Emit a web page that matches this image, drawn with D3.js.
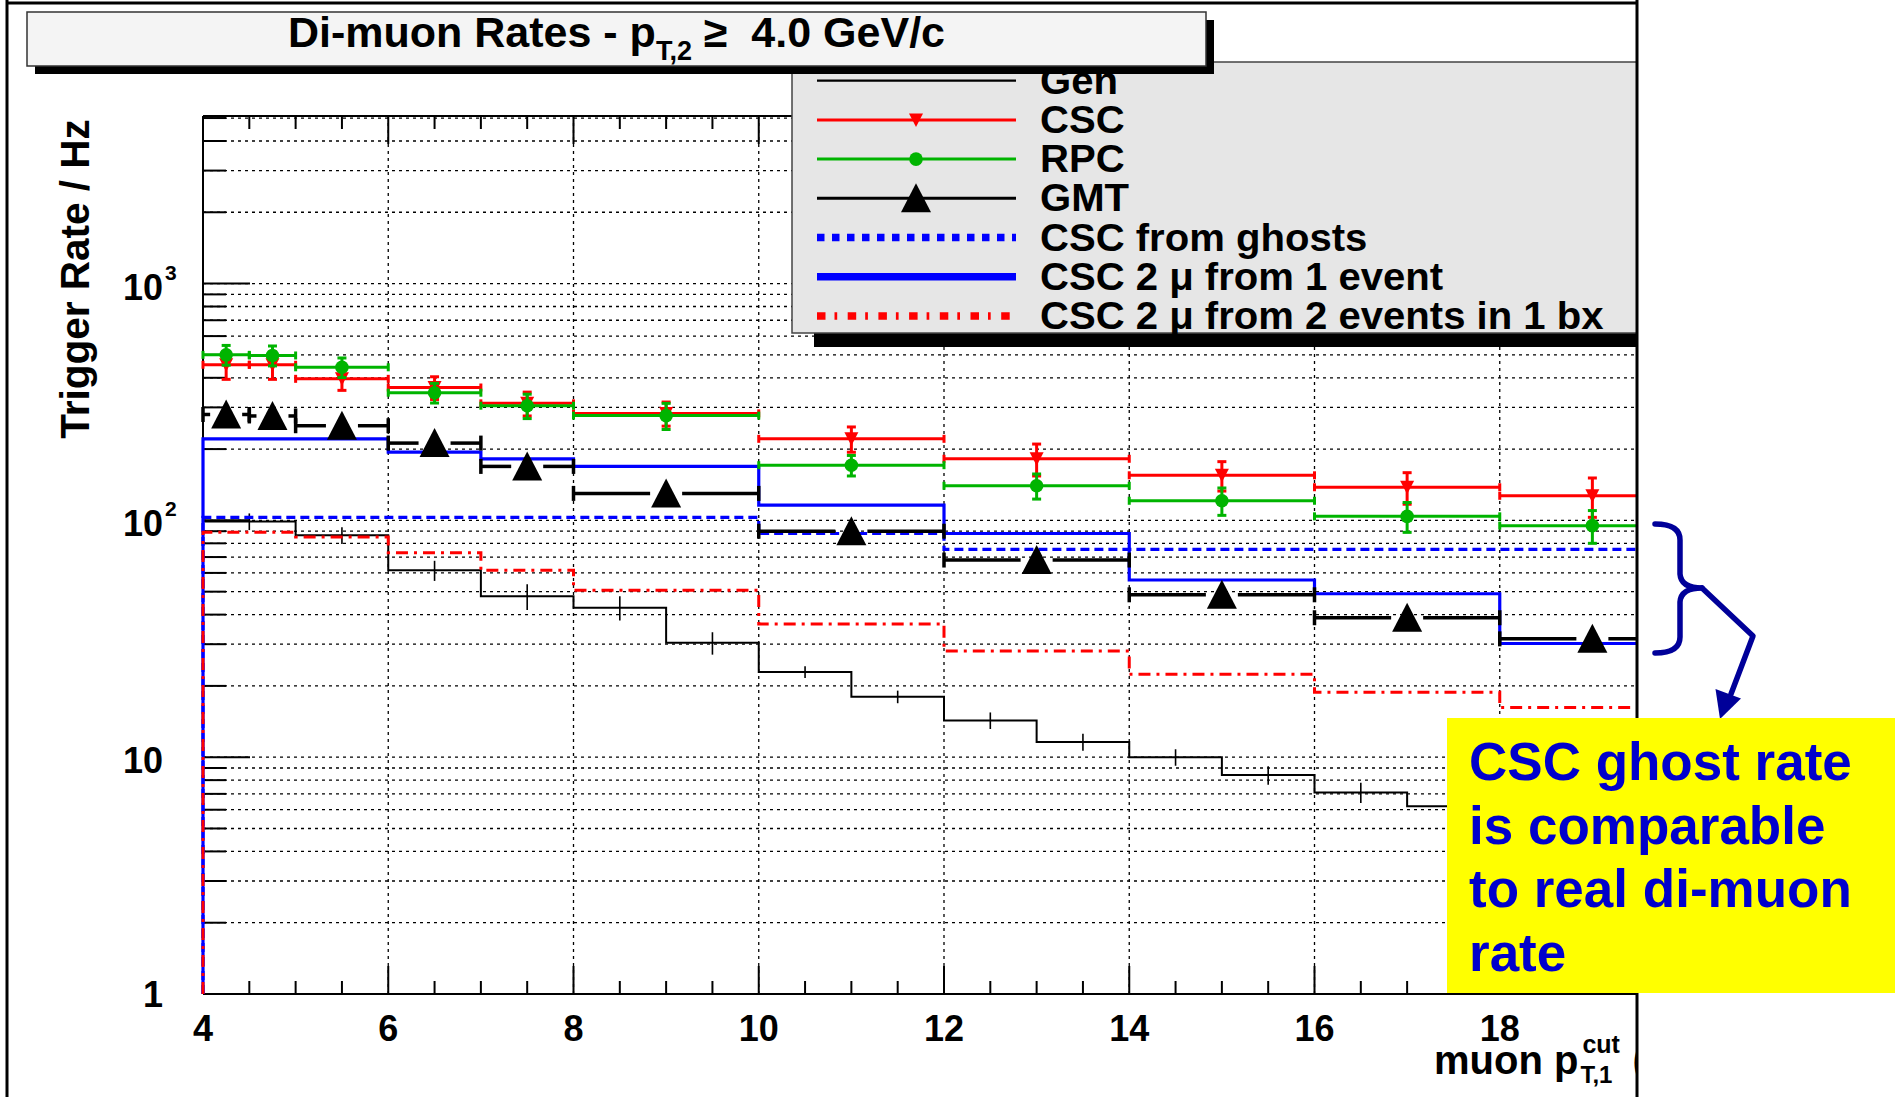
<!DOCTYPE html>
<html>
<head>
<meta charset="utf-8">
<script src="https://cdn.jsdelivr.net/npm/d3@7"></script>
<style>
  body { margin: 0; background: #fff; }
  svg { display: block; }
  text { font-family: "Liberation Sans", Arial, Helvetica, sans-serif; font-weight: bold; white-space: pre; }
</style>
</head>
<body>
<svg id="chart" width="1895" height="1097"></svg>
<script>
// ---- data ----------------------------------------------------------------
// variable-width bins for the trigger histograms (muon pT cut, GeV/c)
const binEdges = [4, 4.5, 5, 6, 7, 8, 10, 12, 14, 16, 18, 20];
// generator-level histogram uses 1 GeV/c bins
const genEdges = [4, 5, 6, 7, 8, 9, 10, 11, 12, 13, 14, 15, 16, 17, 18, 19, 20];

const genRate = [99, 86.5, 61.5, 47.8, 42.8, 30.4, 22.9, 18.0, 14.3, 11.6, 10.0, 8.4, 7.1, 6.2, 5.3, 4.6];
const genErr  = [8, 7, 6, 6, 5, 3.3, 1.3, 1.1, 1.15, 0.95, 0.8, 0.75, 0.7, 0.6, 0.55, 0.5];

const cscRate = [454, 454, 396, 364, 312, 283, 221, 182, 155, 138, 127];
const cscErr  = [60, 60, 42, 40, 36, 33, 27, 28, 22, 21, 24];

const rpcRate = [500, 497, 443, 346, 305, 277, 171, 140, 121, 104, 95];
const rpcErr  = [48, 48, 42, 33, 36, 35, 17, 17, 16, 15, 15];

const gmtRate = [280, 276, 251, 212, 169, 130, 90, 68, 48.5, 38.8, 31.6];

const ghostRate    = [103, 103, 103, 103, 103, 103, 88, 75.5, 75.5, 75.5, 75.5];
const oneEventRate = [221, 221, 221, 194, 182, 169, 116, 88, 56, 49, 30.2];
const twoEventRate = [89, 89, 85, 73, 61.5, 50.7, 36.5, 28.1, 22.4, 18.8, 16.2];

const xTickLabels = [4, 6, 8, 10, 12, 14, 16, 18];
const yTickValues = [1, 10, 100, 1000];
const yTickExponents = ["", "", "2", "3"];

const legendLabels = ["Gen", "CSC", "RPC", "GMT", "CSC from ghosts",
                      "CSC 2 \u03bc from 1 event", "CSC 2 \u03bc from 2 events in 1 bx"];
const noteLines = ["CSC ghost rate", "is comparable", "to real di-muon", "rate"];

// ---- layout --------------------------------------------------------------
const svg = d3.select("#chart");
const plot = { left: 203, right: 1685, top: 116, bottom: 994 };
const visibleRight = 1637;

const x = d3.scaleLinear().domain([4, 20]).range([plot.left, plot.right]);
const y = d3.scaleLog().domain([1, 5100]).range([plot.bottom, plot.top]);

const RED = "#ff0000", GREEN = "#00b400", BLUE = "#0000ff", NAVY = "#000099";

svg.append("defs").append("clipPath").attr("id", "picClip")
  .append("rect").attr("x", 0).attr("y", 0).attr("width", visibleRight).attr("height", 1097);

const g = svg.append("g").attr("clip-path", "url(#picClip)");

// ---- grid ----------------------------------------------------------------
const yMinor = [];
for (let d = 1; d <= 1000; d *= 10) for (let k = 1; k <= 9; k++) {
  const v = d * k;
  if (v > 1 && v <= 5100) yMinor.push(v);
}
const yGrid = Array.from(new Set(yMinor)).filter(v => v <= 5100);
const xGrid = d3.range(6, 20.01, 2);

g.append("g").selectAll("line").data(yGrid).join("line")
  .attr("x1", plot.left).attr("x2", plot.right)
  .attr("y1", d => y(d)).attr("y2", d => y(d))
  .attr("stroke", "#000").attr("stroke-width", 1.3).attr("stroke-dasharray", "3,4");

g.append("g").selectAll("line").data(xGrid).join("line")
  .attr("x1", d => x(d)).attr("x2", d => x(d))
  .attr("y1", plot.top).attr("y2", plot.bottom)
  .attr("stroke", "#000").attr("stroke-width", 1.3).attr("stroke-dasharray", "3,4");

// ---- frame and ticks -----------------------------------------------------
const frame = g.append("g").attr("stroke", "#000").attr("stroke-width", 2);
frame.append("line").attr("x1", plot.left).attr("x2", plot.right).attr("y1", plot.bottom).attr("y2", plot.bottom);
frame.append("line").attr("x1", plot.left).attr("x2", plot.right).attr("y1", plot.top).attr("y2", plot.top);
frame.append("line").attr("x1", plot.left).attr("x2", plot.left).attr("y1", plot.top).attr("y2", plot.bottom);

const xMinorTicks = d3.range(4, 20.01, 0.5);
frame.selectAll(".xt").data(xMinorTicks).join("line")
  .attr("x1", d => x(d)).attr("x2", d => x(d))
  .attr("y1", plot.bottom)
  .attr("y2", d => plot.bottom - (d % 2 === 0 ? 28 : 13));
frame.selectAll(".xtt").data(xMinorTicks).join("line")
  .attr("x1", d => x(d)).attr("x2", d => x(d))
  .attr("y1", plot.top)
  .attr("y2", d => plot.top + (d % 2 === 0 ? 28 : 13));
frame.selectAll(".yt").data(yGrid).join("line")
  .attr("x1", plot.left)
  .attr("x2", d => plot.left + (yTickValues.includes(d) ? 47 : 23))
  .attr("y1", d => y(d)).attr("y2", d => y(d));

// ---- histograms (step lines) ---------------------------------------------
function stepPath(edges, vals) {
  const pts = [[edges[0], 1]];
  vals.forEach((v, i) => { pts.push([edges[i], v]); pts.push([edges[i + 1], v]); });
  return d3.line().x(d => x(d[0])).y(d => y(d[1]))(pts);
}

const hist = g.append("g").attr("fill", "none");
hist.append("path").attr("d", stepPath(genEdges, genRate))
  .attr("stroke", "#000").attr("stroke-width", 2);
hist.selectAll(".gerr").data(genRate).join("line")
  .attr("x1", (d, i) => x((genEdges[i] + genEdges[i + 1]) / 2))
  .attr("x2", (d, i) => x((genEdges[i] + genEdges[i + 1]) / 2))
  .attr("y1", (d, i) => y(d + genErr[i])).attr("y2", (d, i) => y(d - genErr[i]))
  .attr("stroke", "#000").attr("stroke-width", 1.6);

hist.append("path").attr("d", stepPath(binEdges, oneEventRate))
  .attr("stroke", BLUE).attr("stroke-width", 3.2);
hist.append("path").attr("d", stepPath(binEdges, ghostRate))
  .attr("stroke", BLUE).attr("stroke-width", 3.2).attr("stroke-dasharray", "9,5");
hist.append("path").attr("d", stepPath(binEdges, twoEventRate))
  .attr("stroke", RED).attr("stroke-width", 3).attr("stroke-dasharray", "12,6,3,6");

// ---- points with error bars ----------------------------------------------
function binsOf(vals, errs) {
  return vals.map((v, i) => ({ x0: binEdges[i], x1: binEdges[i + 1], c: (binEdges[i] + binEdges[i + 1]) / 2, v, e: errs ? errs[i] : 0 }));
}

function markerPath(kind, cx, cy) {
  if (kind === "down") return `M${cx - 7},${cy - 6.5}L${cx + 7},${cy - 6.5}L${cx},${cy + 7}Z`;
  return `M${cx},${cy - 15}L${cx + 15},${cy + 14}L${cx - 15},${cy + 14}Z`;
}

function drawErrorSeries(vals, errs, color, kind) {
  const s = g.append("g").attr("stroke", color).attr("stroke-width", 3);
  const bins = binsOf(vals, errs);
  s.selectAll(".h").data(bins).join("line")
    .attr("x1", d => x(d.x0)).attr("x2", d => x(d.x1))
    .attr("y1", d => y(d.v)).attr("y2", d => y(d.v));
  s.selectAll(".ec").data(bins.flatMap(d => [{ xv: d.x0, v: d.v }, { xv: d.x1, v: d.v }])).join("line")
    .attr("x1", d => x(d.xv)).attr("x2", d => x(d.xv))
    .attr("y1", d => y(d.v) - 4).attr("y2", d => y(d.v) + 4);
  s.selectAll(".v").data(bins).join("line")
    .attr("x1", d => x(d.c)).attr("x2", d => x(d.c))
    .attr("y1", d => y(d.v + d.e)).attr("y2", d => y(d.v - d.e));
  s.selectAll(".vc").data(bins.flatMap(d => [d.v + d.e, d.v - d.e].map(v => ({ c: d.c, v })))).join("line")
    .attr("x1", d => x(d.c) - 4.5).attr("x2", d => x(d.c) + 4.5)
    .attr("y1", d => y(d.v)).attr("y2", d => y(d.v));
  if (kind === "circle") {
    s.selectAll(".m").data(bins).join("circle")
      .attr("cx", d => x(d.c)).attr("cy", d => y(d.v)).attr("r", 6.8)
      .attr("fill", color).attr("stroke", "none");
  } else {
    s.selectAll(".m").data(bins).join("path")
      .attr("d", d => markerPath(kind, x(d.c), y(d.v)))
      .attr("fill", color).attr("stroke", "none");
  }
}

// GMT: horizontal bin bars broken around large triangle markers
const gmt = g.append("g").attr("stroke", "#000").attr("stroke-width", 3.5);
const gmtBins = binsOf(gmtRate, null);
gmt.selectAll(".l").data(gmtBins).join("line")
  .attr("x1", d => x(d.x0)).attr("x2", d => Math.max(x(d.x0), x(d.c) - 16))
  .attr("y1", d => y(d.v)).attr("y2", d => y(d.v));
gmt.selectAll(".r").data(gmtBins).join("line")
  .attr("x1", d => Math.min(x(d.x1), x(d.c) + 16)).attr("x2", d => x(d.x1))
  .attr("y1", d => y(d.v)).attr("y2", d => y(d.v));
gmt.selectAll(".ec").data(gmtBins.flatMap(d => [{ xv: d.x0, v: d.v }, { xv: d.x1, v: d.v }])).join("line")
  .attr("x1", d => x(d.xv)).attr("x2", d => x(d.xv))
  .attr("y1", d => y(d.v) - 7.5).attr("y2", d => y(d.v) + 7.5);
gmt.selectAll(".m").data(gmtBins).join("path")
  .attr("d", d => markerPath("up", x(d.c), y(d.v)))
  .attr("fill", "#000").attr("stroke", "none");

drawErrorSeries(cscRate, cscErr, RED, "down");
drawErrorSeries(rpcRate, rpcErr, GREEN, "circle");

// ---- tick labels and axis titles -----------------------------------------
g.append("g").selectAll("text").data(xTickLabels).join("text")
  .attr("x", d => x(d)).attr("y", 1041).attr("text-anchor", "middle")
  .attr("font-size", 36).text(d => d);

const yl = g.append("g");
yl.selectAll(".b").data(yTickValues).join("text")
  .attr("x", 163).attr("y", d => y(d) + (d === 1 ? 13 : 16)).attr("text-anchor", "end")
  .attr("font-size", 36).text(d => d === 1 ? "1" : "10");
yl.selectAll(".e").data(yTickValues.filter((d, i) => yTickExponents[i])).join("text")
  .attr("x", 165).attr("y", d => y(d) - 4).attr("font-size", 21)
  .text(d => yTickExponents[yTickValues.indexOf(d)]);

g.append("text").attr("transform", "translate(89,279) rotate(-90)")
  .attr("text-anchor", "middle").attr("font-size", 40.5).text("Trigger Rate / Hz");

const xt = g.append("g");
const xtMain = xt.append("text").attr("x", 1434).attr("y", 1074).attr("font-size", 40).text("muon p");
const xtW = xtMain.node().getComputedTextLength();
xt.append("text").attr("x", 1434 + xtW + 2).attr("y", 1083).attr("font-size", 24).text("T,1");
xt.append("text").attr("x", 1434 + xtW + 4).attr("y", 1053).attr("font-size", 25).text("cut");
xt.append("text").attr("x", 1434 + xtW + 54).attr("y", 1074).attr("font-size", 40).text("(GeV/c)");

// ---- legend --------------------------------------------------------------
const leg = g.append("g");
const legBox = { x: 792, y: 62, w: 1000, h: 271 };
leg.append("rect").attr("x", legBox.x + 22).attr("y", legBox.y + 14)
  .attr("width", legBox.w).attr("height", legBox.h).attr("fill", "#000");
leg.append("rect").attr("x", legBox.x).attr("y", legBox.y)
  .attr("width", legBox.w).attr("height", legBox.h)
  .attr("fill", "#e6e6e6").attr("stroke", "#444").attr("stroke-width", 1.5);

const rowY = legendLabels.map((d, i) => 80.7 + i * 39.2);
const lineStyles = [
  { c: "#000", w: 2.2, dash: null },
  { c: RED, w: 3, dash: null },
  { c: GREEN, w: 3, dash: null },
  { c: "#000", w: 3, dash: null },
  { c: BLUE, w: 7.5, dash: "7.5,7.5" },
  { c: BLUE, w: 7.5, dash: null },
  { c: RED, w: 7.5, dash: "8.5,9,2.7,10.5" }
];
leg.selectAll(".ll").data(lineStyles).join("line")
  .attr("x1", 817).attr("x2", 1016)
  .attr("y1", (d, i) => rowY[i]).attr("y2", (d, i) => rowY[i])
  .attr("stroke", d => d.c).attr("stroke-width", d => d.w)
  .attr("stroke-dasharray", d => d.dash);
leg.append("path").attr("d", markerPath("down", 916, rowY[1])).attr("fill", RED);
leg.append("circle").attr("cx", 916).attr("cy", rowY[2]).attr("r", 6.8).attr("fill", GREEN);
leg.append("path").attr("d", markerPath("up", 916, rowY[3])).attr("fill", "#000");
leg.selectAll(".lt").data(legendLabels).join("text")
  .attr("transform", (d, i) => `translate(1040,${rowY[i] + 13}) scale(1.055,1)`)
  .attr("font-size", 38).text(d => d);

// ---- title box -----------------------------------------------------------
const tb = { x: 27, y: 12, w: 1179, h: 54 };
g.append("rect").attr("x", tb.x + 8).attr("y", tb.y + 8).attr("width", tb.w).attr("height", tb.h).attr("fill", "#000");
g.append("rect").attr("x", tb.x).attr("y", tb.y).attr("width", tb.w).attr("height", tb.h)
  .attr("fill", "#f4f4f4").attr("stroke", "#333").attr("stroke-width", 1.5);
const title = g.append("text").attr("x", tb.x + tb.w / 2).attr("y", 47)
  .attr("text-anchor", "middle").attr("font-size", 43);
title.append("tspan").text("Di-muon Rates - p");
title.append("tspan").attr("font-size", 27).attr("dy", 13).text("T,2");
title.append("tspan").attr("dy", -13).text(" \u2265  4.0 GeV/c");

// ---- picture border ------------------------------------------------------
const border = svg.append("g").attr("stroke", "#000").attr("stroke-width", 3);
border.append("line").attr("x1", 7).attr("x2", 7).attr("y1", 0).attr("y2", 1097);
border.append("line").attr("x1", 7).attr("x2", visibleRight).attr("y1", 3).attr("y2", 3);
border.append("line").attr("x1", visibleRight).attr("x2", visibleRight).attr("y1", 0).attr("y2", 1097);

// ---- annotation: brace, arrow and note -----------------------------------
const ann = svg.append("g").attr("fill", "none").attr("stroke", NAVY)
  .attr("stroke-width", 5.5).attr("stroke-linecap", "round").attr("stroke-linejoin", "round");
ann.append("path").attr("d",
  "M1655,524 Q1680,524 1680,540 L1680,574 Q1681,588 1702,588 Q1681,588 1680,602 L1680,637 Q1680,653 1655,653");
ann.append("path").attr("d", "M1702,588 L1753,636 L1731,694");
svg.append("path").attr("d", "M1720,719 L1715.5,689 L1741,698.5 Z").attr("fill", NAVY);

svg.append("rect").attr("x", 1447).attr("y", 718).attr("width", 448).attr("height", 275).attr("fill", "#ffff00");
svg.append("g").selectAll("text").data(noteLines).join("text")
  .attr("x", 1469).attr("y", (d, i) => 780 + i * 63.5)
  .attr("font-size", 53).attr("fill", "#0000cc").text(d => d);
</script>
</body>
</html>
